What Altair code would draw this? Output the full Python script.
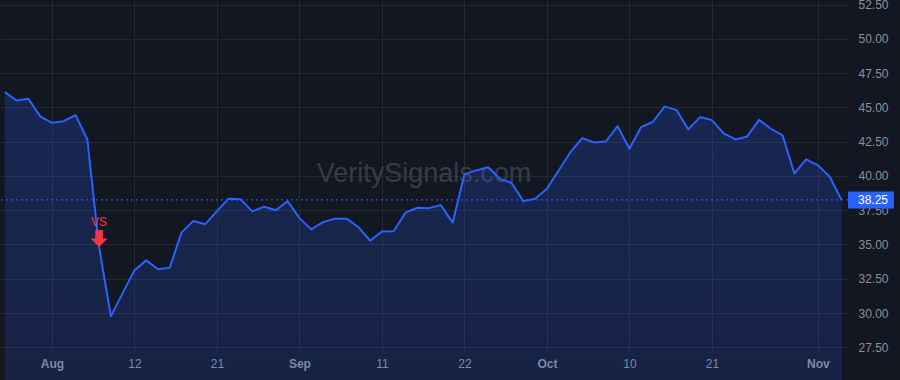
import altair as alt
import pandas as pd

# ---- data (trading-day index 0 = Jul 28 ... 71 = Nov 5) ----
values = [46.11, 45.50, 45.63, 44.34, 43.87, 43.99, 44.43, 42.66, 34.81, 29.76,
          31.45, 33.11, 33.84, 33.19, 33.31, 35.88, 36.71, 36.47, 37.43, 38.34,
          38.29, 37.41, 37.75, 37.49, 38.16, 36.92, 36.10, 36.63, 36.88, 36.88,
          36.27, 35.27, 35.95, 35.97, 37.32, 37.68, 37.65, 37.87, 36.59, 40.11,
          40.40, 40.64, 39.80, 39.48, 38.16, 38.34, 39.07, 40.40, 41.73, 42.76,
          42.44, 42.51, 43.63, 41.98, 43.56, 43.95, 45.07, 44.80, 43.39, 44.29,
          44.07, 43.10, 42.66, 42.88, 44.09, 43.44, 42.95, 40.18, 41.20, 40.77,
          39.94, 38.25]
tick_idx = [4, 11, 18, 25, 32, 39, 46, 53, 60, 69]
tick_text = ["Aug", "12", "21", "Sep", "11", "22", "Oct", "10", "21", "Nov"]
month_idx = [4, 25, 46, 69]
y_ticks = [27.5, 30.0, 32.5, 35.0, 37.5, 40.0, 42.5, 45.0, 47.5, 50.0, 52.5]
signal_idx = 8
signal_label = "VS"
last_price = 38.25
watermark = "VeritySignals.com"

# ---- style ----
BG = "#131722"
GRID = "#242833"
LABEL = "#8c8f98"
BLUE = "#2962ff"
RED = "#f23645"
FONT = "Liberation Sans"
W, H = 848, 351
X_DOMAIN = [-0.41, 71.55]
Y_DOMAIN = [27.23, 52.83]

df = pd.DataFrame({"i": list(range(len(values))), "v": values})
sig_df = pd.DataFrame({"i": [signal_idx], "v": [values[signal_idx]], "t": [signal_label]})
last_df = pd.DataFrame({"i": [X_DOMAIN[1]], "v": [last_price], "t": [f"{last_price:.2f}"]})
one = pd.DataFrame({"t": [watermark]})

label_expr = " : ".join(
    f"datum.value == {i} ? '{t}'" for i, t in zip(tick_idx, tick_text)
) + " : ''"
month_test = "indexof([" + ",".join(str(m) for m in month_idx) + "], datum.value) >= 0"

x_scale = alt.Scale(domain=X_DOMAIN, nice=False, zero=False)
y_scale = alt.Scale(domain=Y_DOMAIN, nice=False, zero=False)
x_axis = alt.Axis(
    values=tick_idx, labelExpr=label_expr, title=None, grid=True,
    gridColor=GRID, ticks=False, domain=False, labelColor=LABEL,
    labelFontSize=12, labelFont=FONT, labelPadding=7,
    labelFontWeight={"condition": {"test": month_test, "value": "bold"}, "value": "normal"},
    labelFlush=False, labelOverlap=False, labelBound=False,
)
y_axis = alt.Axis(
    orient="right", values=y_ticks, format=".2f", title=None, grid=True,
    gridColor=GRID, ticks=False, domain=False, labelColor=LABEL,
    labelFontSize=12, labelFont=FONT, labelPadding=10,
    labelFlush=False, labelOverlap=False, labelBound=False,
)
x_enc = alt.X("i:Q", scale=x_scale, axis=x_axis)
y_enc = alt.Y("v:Q", scale=y_scale, axis=y_axis)

wm = alt.Chart(one).mark_text(
    fontSize=27, font=FONT, color="#383c47", align="center", baseline="middle"
).encode(x=alt.value(W / 2), y=alt.value(H / 2 - 2), text="t:N")

area = alt.Chart(df).mark_area(
    color=alt.Gradient(
        gradient="linear", x1=1, x2=1, y1=0, y2=1,
        stops=[alt.GradientStop(color="rgba(41,98,255,0.22)", offset=0),
               alt.GradientStop(color="rgba(41,98,255,0.07)", offset=1)],
    ),
    line=False,
).encode(x=x_enc, y=y_enc)

line = alt.Chart(df).mark_line(color=BLUE, strokeWidth=2, strokeJoin="round").encode(
    x=x_enc, y=y_enc
)

rule = alt.Chart(last_df).mark_rule(color=BLUE, strokeWidth=1, strokeDash=[2, 3]).encode(
    y=y_enc
)

arrow_path = "M-0.45,-2L0.45,-2L0.45,-1L1,-1L0,0L-1,-1L-0.45,-1Z"
arrow = alt.Chart(sig_df).mark_point(
    shape=arrow_path, size=289, filled=True, color=RED, opacity=1
).encode(x=x_enc, y=y_enc)

vs_text = alt.Chart(sig_df).mark_text(
    color=RED, fontSize=12, font=FONT, baseline="alphabetic", align="center", dy=-21
).encode(x=x_enc, y=y_enc, text="t:N")

box_path = "M0,-1L5.4,-1L5.4,1L0,1Z"
price_box = alt.Chart(last_df).mark_point(
    shape=box_path, size=289, filled=True, color=BLUE, opacity=1
).encode(x=x_enc, y=y_enc)

price_text = alt.Chart(last_df).mark_text(
    color="white", fontSize=12, font=FONT, align="left", baseline="middle", dx=10
).encode(x=x_enc, y=y_enc, text="t:N")

chart = alt.layer(
    wm, area, line, rule, arrow, vs_text, price_box, price_text
).properties(
    width=W, height=H, background=BG,
    padding={"left": 0, "top": 0, "right": 900 - W, "bottom": 380 - H},
    autosize=alt.AutoSizeParams(type="none"),
).configure_axis(
    labelOverlap=False
).configure_view(stroke=None, fill=BG)

chart.save("out.html", embed_options={"renderer": "svg", "actions": False})
